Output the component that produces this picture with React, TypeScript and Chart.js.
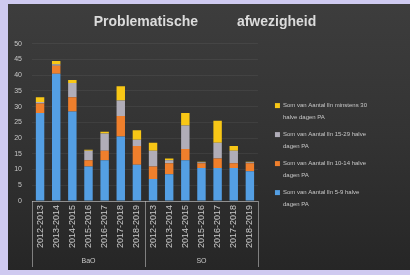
import React, { useEffect, useRef } from "react";
import { Chart, registerables } from "chart.js";

Chart.register(...registerables);

const years = ["2012-2013", "2013-2014", "2014-2015", "2015-2016", "2016-2017", "2017-2018", "2018-2019"];
const categories = [...years, ...years];
const groups = ["BaO", "SO"];
const yTicks = [0, 5, 10, 15, 20, 25, 30, 35, 40, 45, 50];

const s5to9 = [28, 40.5, 28.5, 11, 13, 20.5, 11.5, 7, 8.5, 13, 10.5, 10.5, 10.5, 9.5];
const s10to14 = [3, 2.5, 4.5, 2, 3, 6.5, 6, 4, 3.5, 3.5, 1.5, 3, 1.5, 2.5];
const s15to29 = [0.5, 0.5, 4.5, 3, 5.5, 5, 2, 5, 1, 7.5, 0.3, 5, 4, 0.3];
const s30plus = [1.5, 1, 1, 0.3, 0.5, 4.5, 3, 2.5, 0.5, 4, 0.2, 7, 1.5, 0.2];

const seriesLabels = [
  "Som van Aantal lln 5-9 halve\ndagen PA",
  "Som van Aantal lln 10-14 halve\ndagen PA",
  "Som van Aantal lln 15-29 halve\ndagen PA",
  "Som van Aantal lln minstens 30\nhalve dagen PA",
];
const seriesColors = ["#549fe4", "#ef7f2c", "#b0adb8", "#f8c716"];

const dividerPlugin = {
  id: "groupDividers",
  afterDraw(chart: any) {
    const x = chart.scales.x;
    const x2 = chart.scales.x2;
    if (!x || !x2) return;
    const ctx = chart.ctx;
    const half = years.length;
    const mid = (x.getPixelForValue(half - 1) + x.getPixelForValue(half)) / 2;
    const xs = [x.left, mid, x.right];
    ctx.save();
    ctx.strokeStyle = "rgba(200,200,200,0.55)";
    ctx.lineWidth = 1;
    xs.forEach((px) => {
      ctx.beginPath();
      ctx.moveTo(Math.round(px) + 0.5, chart.chartArea.bottom);
      ctx.lineTo(Math.round(px) + 0.5, x2.bottom);
      ctx.stroke();
    });
    ctx.restore();
  },
};

const PAD = " ".repeat(15);

export default function App() {
  const ref = useRef<HTMLCanvasElement | null>(null);
  useEffect(() => {
    if (!ref.current) return;
    const datasets = [s5to9, s10to14, s15to29, s30plus].map((d, i) => ({
      label: seriesLabels[i],
      data: d,
      backgroundColor: seriesColors[i],
      borderWidth: 0,
      barPercentage: 0.55,
      categoryPercentage: 0.95,
      xAxisID: "x",
      yAxisID: "y",
    }));
    const chart = new Chart(ref.current, {
      type: "bar",
      data: { labels: categories, datasets },
      plugins: [dividerPlugin],
      options: {
        animation: false,
        responsive: false,
        maintainAspectRatio: false,
        layout: { padding: { left: 0, right: 8, top: 0, bottom: 3 } },
        plugins: {
          title: {
            display: true,
            text: "Problematische          afwezigheid",
            color: "#dcdcdc",
            font: { family: "Liberation Sans", size: 14, weight: "bold" },
            padding: { top: 10, bottom: 13 },
          },
          legend: {
            position: "right",
            reverse: true,
            maxWidth: 200,
            title: {
              display: true,
              text: " ",
              font: { size: 6 },
              padding: { top: 38, bottom: 0 },
            },
            labels: {
              color: "#c8c8c8",
              boxWidth: 5,
              boxHeight: 5,
              padding: 5,
              font: { family: "Liberation Sans", size: 6, lineHeight: 2 },
              generateLabels(chart: any) {
                const items = Chart.defaults.plugins.legend.labels.generateLabels(chart);
                return items.map((it: any) => {
                  const lines = String(it.text).split("\n");
                  lines[0] = lines[0] + PAD;
                  return { ...it, text: lines };
                });
              },
            },
          },
          tooltip: { enabled: false },
        },
        scales: {
          x: {
            stacked: true,
            position: "bottom",
            grid: { display: false, drawTicks: false },
            border: { display: true, color: "rgba(200,200,200,0.6)" },
            afterFit(scale: any) {
              scale.height = 48;
            },
            ticks: {
              color: "#c8c8c8",
              font: { family: "Liberation Sans", size: 9 },
              minRotation: 90,
              maxRotation: 90,
              autoSkip: false,
              padding: 4,
            },
          },
          x2: {
            type: "category",
            labels: groups,
            position: "bottom",
            offset: true,
            grid: { display: false, drawTicks: false },
            border: { display: false },
            afterFit(scale: any) {
              scale.height = 18;
            },
            ticks: {
              color: "#c8c8c8",
              font: { family: "Liberation Sans", size: 7 },
              padding: 8,
            },
          },
          y: {
            stacked: true,
            min: 0,
            max: 50,
            afterBuildTicks(scale: any) {
              scale.ticks = yTicks.map((v) => ({ value: v }));
            },
            afterFit(scale: any) {
              scale.width = 24;
            },
            grid: { color: "rgba(255,255,255,0.06)", drawTicks: false },
            border: { display: false },
            ticks: {
              color: "#c8c8c8",
              font: { family: "Liberation Sans", size: 7 },
              padding: 10,
            },
          },
          gap: {
            type: "linear",
            position: "right",
            display: true,
            grid: { display: false, drawTicks: false },
            border: { display: false },
            ticks: { display: false },
            afterFit(scale: any) {
              scale.width = 12;
            },
          },
        },
      },
    } as any);
    return () => chart.destroy();
  }, []);

  return (
    <div style={{ position: "fixed", left: 0, top: 0, width: 410, height: 275, background: "#cfcaf0" }}>
      <div
        style={{
          position: "absolute",
          left: 8,
          top: 4,
          width: 402,
          height: 266,
          background: "linear-gradient(180deg, #3d3d3d 0%, #333333 50%, #262626 100%)",
        }}
      >
        <canvas ref={ref} width={402} height={266} style={{ display: "block" }} />
      </div>
    </div>
  );
}
